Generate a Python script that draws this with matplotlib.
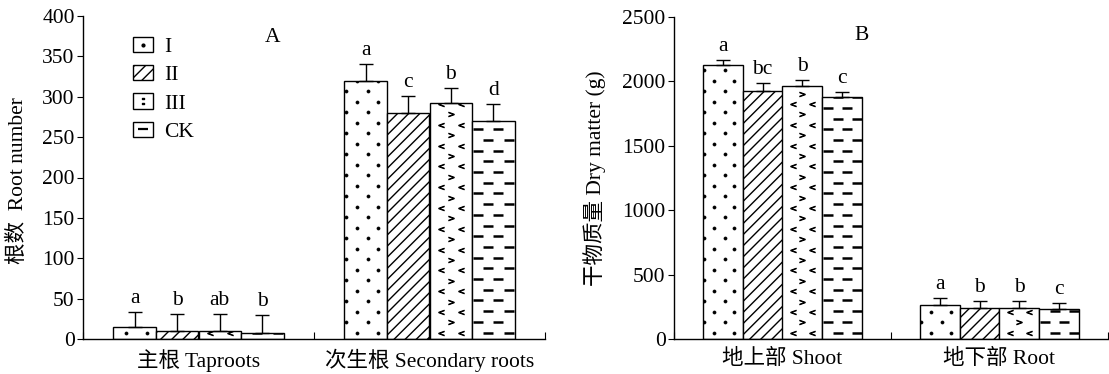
import numpy as np
import matplotlib
matplotlib.use("Agg")
import matplotlib.pyplot as plt
from matplotlib.patches import Patch
from matplotlib.lines import Line2D

plt.rcParams["font.family"] = ["Liberation Serif", "Noto Sans CJK SC"]
plt.rcParams["hatch.linewidth"] = 1.0
plt.rcParams["axes.linewidth"] = 1.0

# ---- data ----
treatments = ["I", "II", "III", "CK"]

rootCategories = ["主根 Taproots", "次生根 Secondary roots"]
rootMeans = [[15, 10, 10, 8], [320, 280, 292, 270]]
rootErrors = [[18, 21, 21, 22], [20, 21, 19, 21]]
rootLetters = [["a", "b", "ab", "b"], ["a", "c", "b", "d"]]

dryCategories = ["地上部 Shoot", "地下部 Root"]
dryMeans = [[2125, 1928, 1967, 1877], [262, 243, 243, 235]]
dryErrors = [[39, 57, 41, 41], [54, 50, 50, 42]]
dryLetters = [["a", "bc", "b", "c"], ["a", "b", "b", "c"]]

FONT = 15.5
BAR_W = 0.184


def fillPattern(ax, rect, kind):
    # draws the fill pattern inside one bar, spacing given in pixels
    trans = ax.transData
    (x0, y0), (x1, y1) = trans.transform([(rect.get_x(), 0), (rect.get_x() + rect.get_width(), rect.get_height())])
    w = x1 - x0
    if kind == "dots":
        step, rowsA, rowsB, mk, ms, mew = 10.5, [0.29, 0.78], [0.04, 0.55], "o", 2.2, 0.5
    elif kind == "chev":
        step, rowsA, rowsB, mk, ms, mew = 10.4, [0.27, 0.75], [0.5], None, 4.0, 0.6
    else:
        step, rowsA, rowsB, mk, ms, mew = 10.7, [0.38, 0.86], [0.14, 0.62], "_", 7.0, 1.8
    ys = np.arange(y0 + step * 0.6, y1 + step, step)
    for k, yy in enumerate(ys):
        fracs = rowsA if k % 2 == 0 else rowsB
        pts = trans.inverted().transform([(x0 + f * w, yy) for f in fracs])
        if kind == "chev":
            marker = "$<$" if k % 2 == 0 else "$>$"
        else:
            marker = mk
        ln, = ax.plot(pts[:, 0], pts[:, 1], ls="none", marker=marker, color="k",
                      ms=ms, mew=mew, zorder=3)
        ln.set_clip_path(rect)


def drawPanel(ax, categories, means, errors, letters, ymax, yticks, ylabel, tag, tagPos):
    ax.set_xlim(0, 2)
    ax.set_ylim(0, ymax)
    kinds = ["dots", None, "chev", "dash"]
    for g in range(len(categories)):
        centre = g + 0.5
        for i in range(4):
            x = centre + (i - 1.5) * BAR_W
            hatch = "///" if i == 1 else None
            bar = ax.bar(x, means[g][i], width=BAR_W, color="white", edgecolor="k",
                         linewidth=1.0, hatch=hatch, zorder=2)[0]
            if kinds[i] is not None:
                fillPattern(ax, bar, kinds[i])
            ax.errorbar(x, means[g][i], yerr=[[0], [errors[g][i]]], fmt="none",
                        ecolor="k", elinewidth=1.0, capsize=5, capthick=1.0, zorder=4)
            ax.annotate(letters[g][i], (x, means[g][i] + errors[g][i]),
                        xytext=(0, 3), textcoords="offset points",
                        ha="center", va="bottom", fontsize=FONT)

    ax.spines["top"].set_visible(False)
    ax.spines["right"].set_visible(False)
    ax.set_xticks([0, 1, 2])
    ax.set_xticklabels([])
    ax.tick_params(axis="x", which="major", direction="in", length=5)
    ax.set_xticks([0.5, 1.5], minor=True)
    ax.set_xticklabels(categories, minor=True, fontsize=FONT)
    ax.tick_params(axis="x", which="minor", length=0, pad=7)
    ax.set_yticks(yticks)
    ax.tick_params(axis="y", direction="out", length=4, labelsize=FONT, pad=2)
    ax.set_ylabel(ylabel, fontsize=FONT)
    ax.text(tagPos[0], tagPos[1], tag, transform=ax.transAxes, fontsize=FONT,
            ha="center", va="center")


fig = plt.figure(figsize=(11.09, 3.74), dpi=100)
axA = fig.add_axes([83 / 1109, 35 / 374, 462 / 1109, 323 / 374])
axB = fig.add_axes([674 / 1109, 35 / 374, 434 / 1109, 322 / 374])

drawPanel(axA, rootCategories, rootMeans, rootErrors, rootLetters, 400,
          np.arange(0, 401, 50), "根数  Root number", "A", (0.411, 0.932))
axA.yaxis.set_label_coords(-0.12, 0.49)

drawPanel(axB, dryCategories, dryMeans, dryErrors, dryLetters, 2500,
          np.arange(0, 2501, 500), "干物质量 Dry matter (g)", "B", (0.433, 0.941))
axB.yaxis.set_label_coords(-0.156, 0.5)

# legend with small pattern boxes
box = dict(facecolor="white", edgecolor="k", linewidth=1.0)
handles = [
    (Patch(**box), Line2D([], [], ls="none", marker="o", color="k", ms=2)),
    Patch(hatch="///", **box),
    (Patch(**box), Line2D([], [], ls="none", marker="$:$", color="k", ms=5)),
    (Patch(**box), Line2D([], [], ls="none", marker="_", color="k", ms=7, mew=1.6)),
]
axA.legend(handles, treatments, loc="upper left", bbox_to_anchor=(0.108, 0.935),
           frameon=False, fontsize=FONT, handlelength=0.95, handleheight=0.7,
           handletextpad=0.5, labelspacing=0.38, borderpad=0, borderaxespad=0)

fig.savefig("out.png", dpi=100)
